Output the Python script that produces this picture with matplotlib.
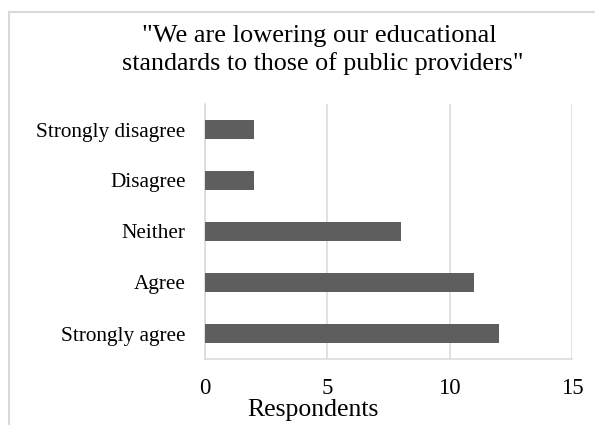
import matplotlib
matplotlib.use('Agg')
import matplotlib.pyplot as plt
from matplotlib.lines import Line2D

# categories from top to bottom
categories = ['Strongly disagree', 'Disagree', 'Neither', 'Agree', 'Strongly agree']
respondents = [2, 2, 8, 11, 12]
xticks = [0, 5, 10, 15]

fig = plt.figure(figsize=(5.95, 4.25), dpi=100)
ax = fig.add_axes([205/595, 1-359/425, (572-205)/595, (359-104)/425])

ypos = list(range(len(categories)))[::-1]
ax.barh(ypos, respondents, height=0.37, color='#5e5e5e', zorder=3)

ax.set_xlim(0, 15)
ax.set_ylim(-0.5, len(categories)-0.5)
ax.set_xticks(xticks)
ax.set_xticklabels([str(t) for t in xticks], fontfamily='Liberation Serif', fontsize=16.5)
ax.set_yticks(ypos)
ax.set_yticklabels(categories, fontfamily='Liberation Serif', fontsize=15.3)
ax.tick_params(axis='both', length=0)
ax.tick_params(axis='x', pad=14)
ax.tick_params(axis='y', pad=14)

ax.grid(axis='x', color='#d9d9d9', lw=1.1, zorder=0)
for s in ['top', 'right']:
    ax.spines[s].set_visible(False)
ax.spines['left'].set_color('#d9d9d9')
ax.spines['bottom'].set_color('#d9d9d9')
ax.spines['left'].set_linewidth(1.1)
ax.spines['bottom'].set_linewidth(1.1)

# axis title
fig.text(313/595, 1-416/425, 'Respondents', ha='center', va='baseline',
         fontfamily='Liberation Serif', fontsize=18.5)

# title lines
fig.text(319/595, 1-42/425, '"We are lowering our educational', ha='center', va='baseline',
         fontfamily='Liberation Serif', fontsize=19)
fig.text(323/595, 1-70/425, 'standards to those of public providers"', ha='center', va='baseline',
         fontfamily='Liberation Serif', fontsize=18.7)

# chart frame
fig.add_artist(Line2D([8.5/595, 8.5/595], [0, 1-12/425], transform=fig.transFigure, color='#d9d9d9', lw=1.5))
fig.add_artist(Line2D([8.5/595, 1], [1-12/425, 1-12/425], transform=fig.transFigure, color='#d9d9d9', lw=1.5))

fig.savefig('out.png', dpi=100)
